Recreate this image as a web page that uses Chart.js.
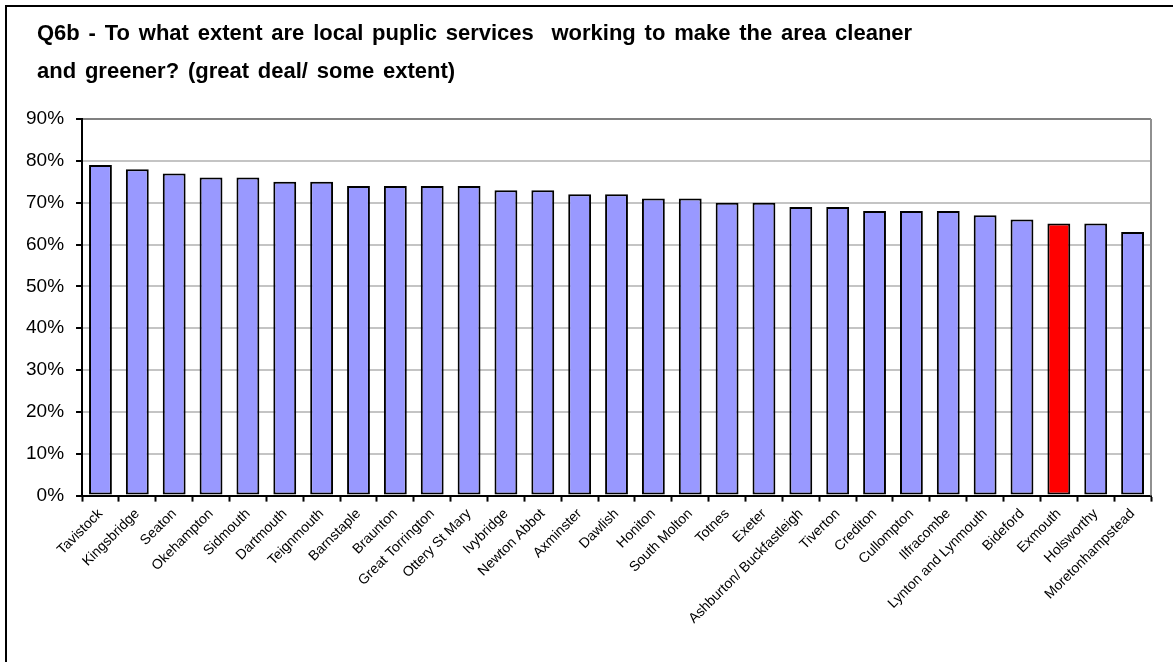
<!DOCTYPE html>
<html>
<head>
<meta charset="utf-8">
<script src="https://cdn.jsdelivr.net/npm/chart.js@4"></script>
<style>
  html, body { margin: 0; padding: 0; background: #fff; }
  #wrap { width: 1173px; height: 662px; position: relative; }
</style>
</head>
<body>
<div id="wrap"><canvas id="townChart" width="1173" height="662"></canvas></div>
<script>
// Survey result per town, sorted high to low
const towns = [
    'Tavistock', 'Kingsbridge', 'Seaton', 'Okehampton', 'Sidmouth', 'Dartmouth',
    'Teignmouth', 'Barnstaple', 'Braunton', 'Great Torrington', 'Ottery St Mary',
    'Ivybridge', 'Newton Abbot', 'Axminster', 'Dawlish', 'Honiton', 'South Molton',
    'Totnes', 'Exeter', 'Ashburton/ Buckfastleigh', 'Tiverton', 'Crediton',
    'Cullompton', 'Ilfracombe', 'Lynton and Lynmouth', 'Bideford', 'Exmouth',
    'Holsworthy', 'Moretonhampstead'
];
const cleanerGreener = [
    79, 78, 77, 76, 76, 75,
    75, 74, 74, 74, 74,
    73, 73, 72, 72, 71, 71,
    70, 70, 69, 69, 68,
    68, 68, 67, 66, 65,
    65, 63
];
const highlightTown = 'Exmouth';
const titleLines = [
    'Q6b - To what extent are local puplic services  working to make the area cleaner',
    'and greener? (great deal/ some extent)'
];

const FONT = "'Liberation Sans', Arial, sans-serif";

// frame lines, plot border and title text
const framePlugin = {
    id: 'frame',
    beforeDatasetsDraw(chart) {
        const { ctx, chartArea } = chart;
        ctx.save();
        ctx.strokeStyle = '#909090';
        ctx.lineWidth = 2;
        ctx.beginPath();
        ctx.moveTo(chartArea.right, chartArea.top);
        ctx.lineTo(chartArea.right, chartArea.bottom);
        ctx.stroke();
        ctx.restore();
    },
    afterDraw(chart) {
        const { ctx } = chart;
        ctx.save();
        ctx.strokeStyle = '#000';
        ctx.lineWidth = 2;
        ctx.beginPath();
        ctx.moveTo(6, chart.height);
        ctx.lineTo(6, 6);
        ctx.lineTo(chart.width, 6);
        ctx.stroke();

        ctx.fillStyle = '#000';
        ctx.font = 'bold 22px ' + FONT;
        ctx.textBaseline = 'alphabetic';
        if ('wordSpacing' in ctx) ctx.wordSpacing = '2.7px';
        ctx.fillText(titleLines[0], 37, 40);
        ctx.fillText(titleLines[1], 37, 78);
        ctx.restore();
    }
};

new Chart(document.getElementById('townChart'), {
    type: 'bar',
    data: {
        labels: towns,
        datasets: [{
            data: cleanerGreener,
            backgroundColor: towns.map(t => t === highlightTown ? '#FF0000' : '#9999FF'),
            borderColor: '#000',
            borderWidth: 2,
            borderSkipped: false,
            barPercentage: 0.62,
            categoryPercentage: 1
        }]
    },
    options: {
        responsive: false,
        animation: false,
        layout: { padding: { top: 119, left: 14, right: 22, bottom: 31 } },
        plugins: {
            legend: { display: false },
            title: { display: false },
            tooltip: { enabled: false }
        },
        scales: {
            x: {
                grid: {
                    offset: true,
                    drawOnChartArea: false,
                    drawTicks: true,
                    tickLength: 6,
                    tickColor: '#000',
                    tickWidth: 2
                },
                border: { color: '#000', width: 2 },
                ticks: {
                    autoSkip: false,
                    maxRotation: 45,
                    minRotation: 45,
                    padding: 4,
                    color: '#000',
                    font: { family: FONT, size: 14 }
                }
            },
            y: {
                min: 0,
                max: 90,
                grid: {
                    color: ctx => ctx.tick && ctx.tick.value === 90 ? '#808080' : '#c4c4c4',
                    lineWidth: 2,
                    tickLength: 6,
                    tickColor: '#000',
                    tickWidth: 2
                },
                border: { color: '#000', width: 2 },
                ticks: {
                    stepSize: 10,
                    padding: 12,
                    color: '#000',
                    font: { family: FONT, size: 19 },
                    callback: v => v + '%'
                }
            }
        }
    },
    plugins: [framePlugin]
});
</script>
</body>
</html>
